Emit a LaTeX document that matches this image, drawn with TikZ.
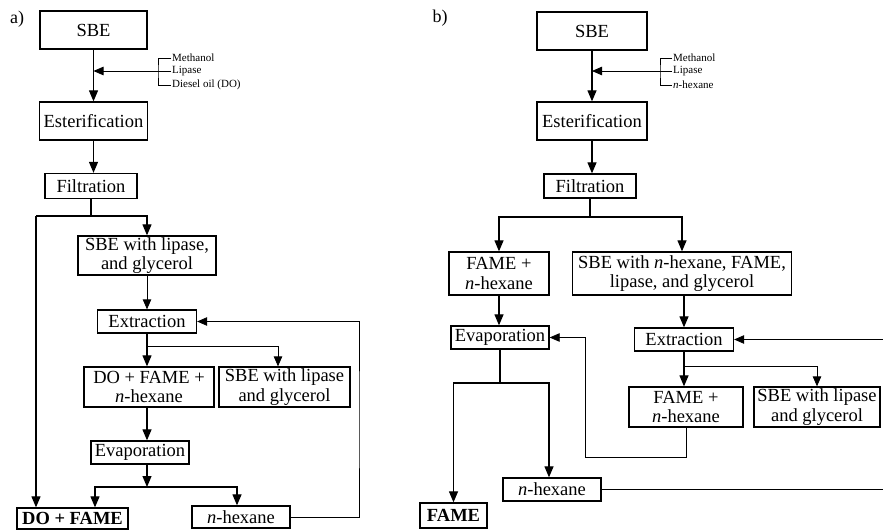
\documentclass[tikz,border=0pt]{standalone}
\usepackage{fontspec}
\setmainfont{Liberation Serif}
\usetikzlibrary{arrows.meta, positioning, calc}

\begin{document}
\begin{tikzpicture}[x=1pt, y=-1pt,
  box/.style={draw, line width=1.3pt, inner sep=0pt, align=center, font=\fontsize{18.5}{19.5}\selectfont},
  flow/.style={line width=1.2pt, -{Triangle[length=11pt,width=9pt]}},
  link/.style={line width=1.2pt},
  feed/.style={line width=0.8pt, -{Triangle[length=10pt,width=8.5pt]}},
  feedline/.style={line width=0.8pt},
  feedlbl/.style={font=\fontsize{11}{13}\selectfont, anchor=west, inner sep=1pt},
  tag/.style={font=\fontsize{18}{20}\selectfont}]
\useasboundingbox (0,0) rectangle (883,530);

% ---------------- a) ----------------
\node[tag] (tagA) at (17,19) {a)};
\node[box, minimum width=107pt, minimum height=38pt] (sbeA) at (93.5,30) {SBE};
\node[box, minimum width=108pt, minimum height=38pt] (estA) at (93.5,121) {Esterification};
\node[box, minimum width=92pt, minimum height=25pt] (filA) at (91,186) {Filtration};
\node[box, minimum width=138pt, minimum height=39pt] (sbelipA) at (147,255.5) {SBE with lipase,\\and glycerol};
\node[box, minimum width=99pt, minimum height=23pt] (extA) at (147,321.5) {Extraction};
\node[box, minimum width=130pt, minimum height=40pt] (dofhA) at (149,387) {DO + FAME +\\\textit{n}-hexane};
\node[box, minimum width=131pt, minimum height=40pt] (sbeglyA) at (284.5,387) {SBE with lipase\\and glycerol};
\node[box, minimum width=98pt, minimum height=23pt] (evaA) at (140,452.5) {Evaporation};
\node[box, minimum width=111pt, minimum height=21pt, font=\fontsize{18.5}{19.5}\selectfont\bfseries] (dofA) at (72.5,518.5) {DO + FAME};
\node[box, minimum width=98pt, minimum height=22pt] (hexA) at (241,517) {\textit{n}-hexane};

% Feed of the esterification
\node[feedlbl] (meA) at (171,58) {Methanol};
\node[feedlbl] (liA) at (171,71) {Lipase};
\node[feedlbl] (doA) at (171,85) {Diesel oil (DO)};
\coordinate (brA) at (158,71);
\draw[feedline] (meA.west) -| (brA) |- (doA.west);
\draw[feedline] (liA.west) -- (brA);
\draw[feed] (brA) -- (brA -| sbeA);

% Main line
\draw[flow] (sbeA) -- (estA);
\draw[flow] (estA.south) -- (estA.south |- filA.north);
\coordinate (spA) at (92,216);
\coordinate (lA) at (36,216);
\draw[link] (filA.south) -- (filA.south |- spA);
\draw[flow] (lA) -- (lA |- dofA.north);
\draw[flow] (lA) -| (sbelipA.north);
\draw[feed] (sbelipA.south) -- (extA.north);

% Extraction split
\coordinate (spB) at (147,346);
\draw[flow] (extA.south) -- (extA.south |- dofhA.north);
\draw[feed] (spB) -| ($(sbeglyA.north)+(-6.5,0)$);
\draw[flow] (extA.south |- dofhA.south) -- (extA.south |- evaA.north);

% Evaporation split
\coordinate (spC) at (147,487);
\draw[flow] (extA.south |- evaA.south) -- (spC);
\draw[flow] (spC) -| ($(dofA.north)+(22.5,0)$);
\draw[flow] (spC) -| ($(hexA.north)+(-4,0)$);

% n-hexane back to extraction
\coordinate (retA) at (359,420);
\draw[feed] (hexA.east) -| (retA) |- (extA.east);

% ---------------- b) ----------------
\node[tag] (tagB) at (440,18) {b)};
\node[box, minimum width=110pt, minimum height=38pt] (sbeB) at (592,31) {SBE};
\node[box, minimum width=110pt, minimum height=38pt] (estB) at (592,121) {Esterification};
\node[box, minimum width=92pt, minimum height=24pt] (filB) at (590,186) {Filtration};
\node[box, minimum width=100pt, minimum height=43pt] (fhB) at (499,273.5) {FAME +\\\textit{n}-hexane};
\node[box, minimum width=219pt, minimum height=43pt] (sbehB) at (682,273.5) {SBE with \textit{n}-hexane, FAME,\\lipase, and glycerol};
\node[box, minimum width=98pt, minimum height=23pt] (evaB) at (500,337.5) {Evaporation};
\node[box, minimum width=99pt, minimum height=23pt] (extB) at (684,339.5) {Extraction};
\node[box, minimum width=114pt, minimum height=40pt] (fhB2) at (686,407) {FAME +\\\textit{n}-hexane};
\node[box, minimum width=126pt, minimum height=40pt] (sbeglyB) at (817,407) {SBE with lipase\\and glycerol};
\node[box, minimum width=98pt, minimum height=23pt] (hexB) at (552,489.5) {\textit{n}-hexane};
\node[box, minimum width=67pt, minimum height=25pt, font=\fontsize{18.5}{19.5}\selectfont\bfseries] (famB) at (453.5,515.5) {FAME};

% Feed of the esterification
\node[feedlbl] (meB) at (672,58) {Methanol};
\node[feedlbl] (liB) at (672,71) {Lipase};
\node[feedlbl] (hxB) at (672,85) {\textit{n}-hexane};
\coordinate (brB) at (660,71);
\draw[feedline] (meB.west) -| (brB) |- (hxB.west);
\draw[feedline] (liB.west) -- (brB);
\draw[feed] (brB) -- (brB -| sbeB);

% Main line
\draw[flow] (sbeB) -- (estB);
\draw[flow] (estB.south) -- (estB.south |- filB.north);
\coordinate (spD) at (589,217);
\draw[link] (filB.south) -- (filB.south |- spD);
\draw[flow] (spD) -| (fhB.north);
\draw[flow] (spD) -| (sbehB.north);
\draw[flow] (fhB.south) -- (fhB.south |- evaB.north);
\draw[flow] (extB.north |- sbehB.south) -- (extB.north);

% Extraction split
\coordinate (spE) at (684,366);
\draw[flow] (extB.south) -- (extB.south |- fhB2.north);
\draw[feed] (spE) -| (sbeglyB.north);

% FAME + n-hexane back to evaporation
\coordinate (retB) at (585,457);
\draw[feed] (fhB2.south) |- (retB) |- (evaB.east);

% Evaporation split
\coordinate (spF) at (501,383);
\draw[link] (evaB.south) -- (evaB.south |- spF);
\draw[flow] (spF) -| (famB.north);
\draw[flow] (spF) -| ($(hexB.north)+(-3,0)$);

% n-hexane back to extraction
\coordinate (edgeB1) at (886,489.5);
\coordinate (edgeB2) at (886,339.5);
\draw[feedline] (hexB.east) -- (edgeB1);
\draw[feed] (edgeB2) -- (extB.east);
\end{tikzpicture}
\end{document}
